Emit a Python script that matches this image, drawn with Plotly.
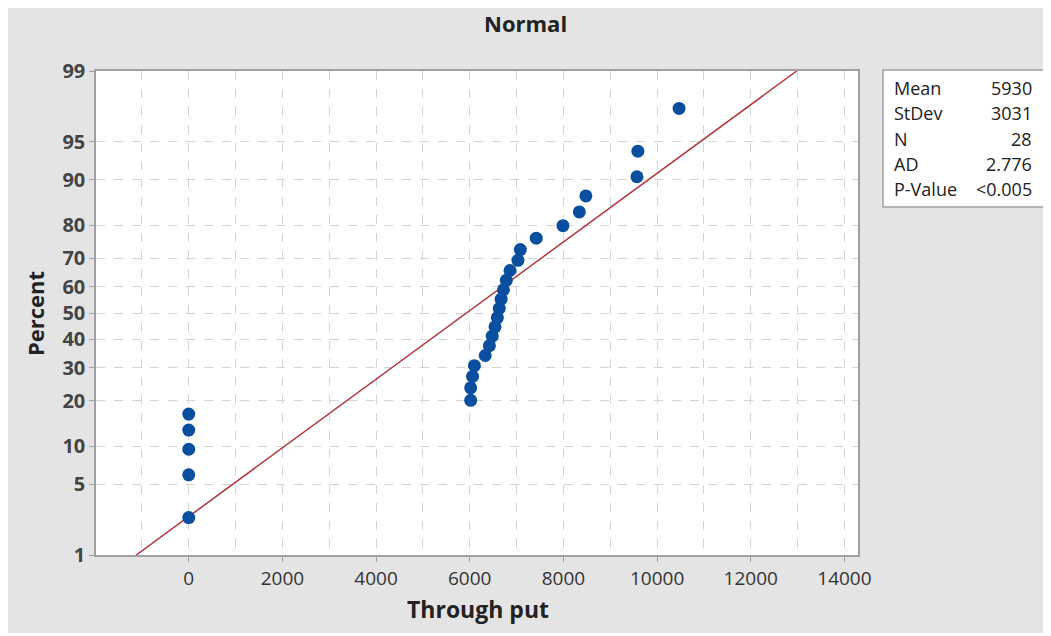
from statistics import NormalDist
import plotly.graph_objects as go

# ---- data ----
throughput = [0, 0, 0, 0, 0,
              6020, 6020, 6060, 6100,
              6330, 6420, 6480, 6540, 6590, 6630, 6670, 6720, 6780, 6860,
              7030, 7080, 7420, 7990, 8340, 8480, 9570, 9590, 10470]
percent = [2.46, 5.99, 9.51, 13.03, 16.55,
           20.07, 23.59, 27.11, 30.63,
           34.15, 37.68, 41.20, 44.72, 48.24, 51.76, 55.28, 58.80, 62.32, 65.85,
           69.37, 72.89, 76.41, 79.93, 83.45, 86.97, 90.49, 94.01, 97.54]
y_ticks = [1, 5, 10, 20, 30, 40, 50, 60, 70, 80, 90, 95, 99]
x_ticks = [0, 2000, 4000, 6000, 8000, 10000, 12000, 14000]
stat_names = ["Mean", "StDev", "N", "AD", "P-Value"]
stat_values = ["5930", "3031", "28", "2.776", "<0.005"]
MEAN = 5930
STDEV = 3031

nd = NormalDist()
def z(p):
    return nd.inv_cdf(p / 100.0)

fit_p = [1, 99]
fit_x = [MEAN + STDEV * z(p) for p in fit_p]

FONT = "Open Sans"
fig = go.Figure()
fig.add_trace(go.Scatter(x=fit_x, y=[z(p) for p in fit_p], mode="lines",
                         line=dict(color="#b0353d", width=1.5),
                         hoverinfo="skip", showlegend=False))
fig.add_trace(go.Scatter(x=throughput, y=[z(p) for p in percent], mode="markers",
                         marker=dict(color="#0a4f9f", size=13),
                         showlegend=False))

OFF = 8  # page body margin
FW, FH = 1038, 625
L, R, T, B = 96 - OFF, 858 - OFF, 71 - OFF, 555 - OFF
W, H = R - L, B - T
def px(x):  # page x -> paper
    return (x - OFF - L) / W
def py(y):  # page y -> paper
    return (B - (y - OFF)) / H

shapes = [
    dict(type="rect", xref="paper", yref="paper", x0=px(883), x1=px(1044), y0=py(207), y1=py(70),
         fillcolor="white", line=dict(color="#a0a0a0", width=1.5)),
]

def txt(text, x, y, size, xanchor="center", angle=0):
    return dict(text=text, x=px(x), y=py(y), xref="paper", yref="paper",
                xanchor=xanchor, yanchor="middle", textangle=angle,
                showarrow=False, font=dict(family=FONT, size=size, color="#222"))

ann = [
    txt("<b>Normal</b>", 525, 23, 22),
    txt("<b>Through put</b>", 478, 609, 23),
    txt("<b>Percent</b>", 35, 313, 22, angle=-90),
]
for i, (n, v) in enumerate(zip(stat_names, stat_values)):
    yy = 88 + i * 25.3
    ann.append(txt(n, 892, yy, 18, xanchor="left"))
    ann.append(txt(v, 1034, yy, 18, xanchor="right"))

grid = dict(showgrid=True, gridcolor="#d4d4d4", gridwidth=1, griddash="dash")
fig.update_layout(
    width=FW, height=FH,
    margin=dict(l=L, r=FW - R, t=T, b=FH - B),
    paper_bgcolor="#e4e4e4", plot_bgcolor="white",
    shapes=shapes, annotations=ann,
    xaxis=dict(range=[-1980, 14290], tickvals=x_ticks, ticktext=[str(t) for t in x_ticks],
               ticks="outside", ticklen=5, tickcolor="#a0a0a0",
               showline=True, linecolor="#a0a0a0", linewidth=1.5, mirror=True,
               zeroline=False,
               tickfont=dict(family=FONT, size=19, color="#333"),
               minor=dict(dtick=1000, tick0=0, showgrid=True, gridcolor="#d4d4d4", griddash="dash"),
               **grid),
    yaxis=dict(range=[z(1), z(99)], tickvals=[z(p) for p in y_ticks],
               ticktext=["<b>%d</b>" % p for p in y_ticks],
               ticks="outside", ticklen=5, tickcolor="#a0a0a0",
               showline=True, linecolor="#a0a0a0", linewidth=1.5, mirror=True,
               zeroline=False,
               tickfont=dict(family=FONT, size=20, color="#444"),
               **grid),
)
fig.write_html("out.html")
